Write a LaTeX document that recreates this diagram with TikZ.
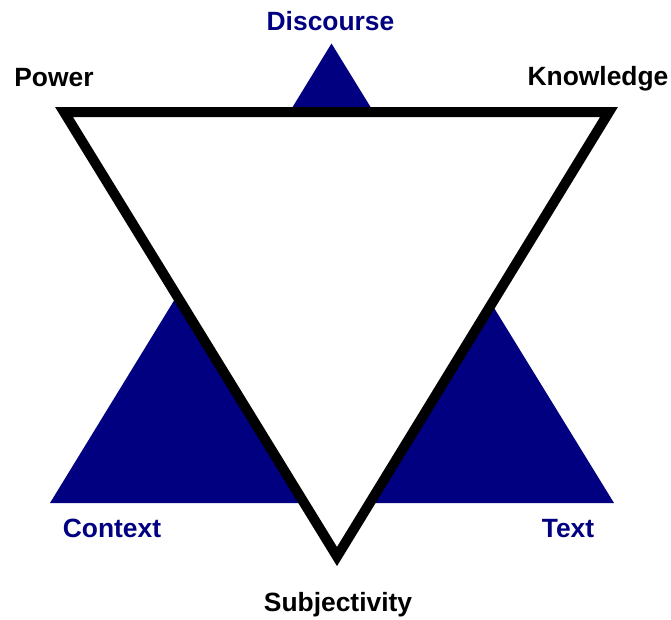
\documentclass[tikz,border=0pt]{standalone}
\usepackage{fontspec}
\setmainfont{Liberation Sans}
\definecolor{navyblue}{RGB}{0,0,128}
\begin{document}
\begin{tikzpicture}[x=1pt,y=-1pt,
  label/.style={font=\fontsize{26.4}{30}\selectfont\bfseries, inner sep=0pt, anchor=base},
  bluelabel/.style={label, text=navyblue},
  blacklabel/.style={label, text=black}]
  \useasboundingbox (0,0) rectangle (671,619);
  % upward filled triangle
  \coordinate (bt) at (331.5,43.5);
  \coordinate (bl) at (50,503);
  \coordinate (br) at (614,503);
  \fill[navyblue] (bt) -- (br) -- (bl) -- cycle;
  % inverted outlined triangle
  \coordinate (wl) at (64,112);
  \coordinate (wr) at (609,112);
  \coordinate (wb) at (337,556.5);
  \filldraw[fill=white, draw=black, line width=10pt, line join=miter, miter limit=10]
    (wl) -- (wr) -- (wb) -- cycle;
  % labels
  \node[bluelabel]  (discourse)    at (330.5,30.5) {Discourse};
  \node[blacklabel] (power)        at (54,86.7)    {Power};
  \node[blacklabel] (knowledge)    at (598,85)     {Knowledge};
  \node[bluelabel]  (context)      at (112,537)    {Context};
  \node[bluelabel]  (text)         at (568,537)    {Text};
  \node[blacklabel] (subjectivity) at (338,611)    {Subjectivity};
\end{tikzpicture}
\end{document}
